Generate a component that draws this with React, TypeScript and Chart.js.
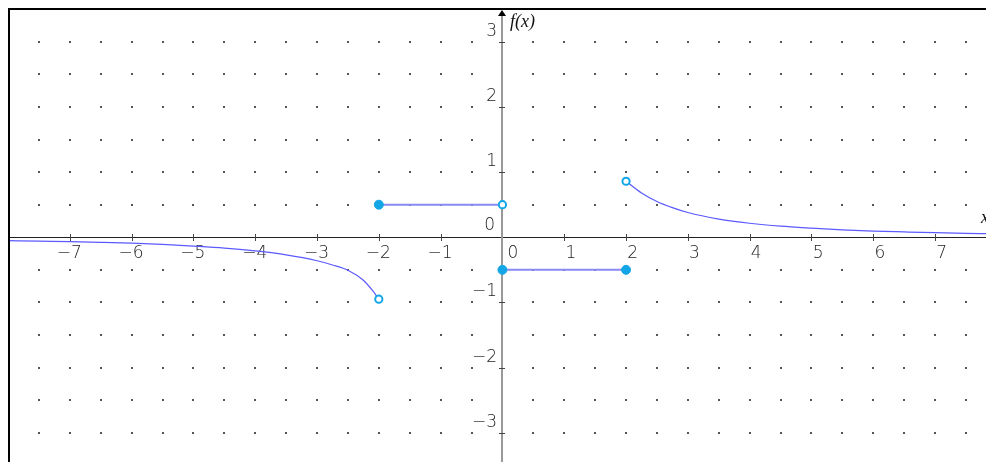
import React, { useEffect, useRef } from "react";
import { Chart, registerables } from "chart.js";

Chart.register(...registerables);

// ---- data ----
const leftCurveX = [-8, -7.5, -7, -6.5, -6, -5.5, -5, -4.5, -4, -3.5, -3, -2.75, -2.5, -2.25, -2.1, -2];
const leftCurveY = [-0.052, -0.06, -0.067, -0.077, -0.09, -0.11, -0.135, -0.165, -0.21, -0.27, -0.36, -0.425, -0.505, -0.66, -0.82, -0.95];

const rightCurveX = [2, 2.25, 2.5, 2.75, 3, 3.5, 4, 4.5, 5, 5.5, 6, 6.5, 7, 7.5, 7.85];
const rightCurveY = [0.86, 0.68, 0.55, 0.455, 0.38, 0.28, 0.215, 0.17, 0.14, 0.115, 0.095, 0.082, 0.07, 0.061, 0.056];

const upperSegX = [-2, 0];
const upperSegY = [0.5, 0.5];
const lowerSegX = [0, 2];
const lowerSegY = [-0.5, -0.5];

const closedPtsX = [-2, 0, 2];
const closedPtsY = [0.5, -0.5, -0.5];
const openPtsX = [0, 2, -2];
const openPtsY = [0.5, 0.86, -0.95];

const xTickValues = [-7, -6, -5, -4, -3, -2, -1, 0, 1, 2, 3, 4, 5, 6, 7];
const xTickLabels = ["\u22127", "\u22126", "\u22125", "\u22124", "\u22123", "\u22122", "\u22121", "0", "1", "2", "3", "4", "5", "6", "7"];
const yTickValues = [-3, -2, -1, 0, 1, 2, 3];
const yTickLabels = ["\u22123", "\u22122", "\u22121", "0", "1", "2", "3"];

const dotXValues = [-7.5, -7, -6.5, -6, -5.5, -5, -4.5, -4, -3.5, -3, -2.5, -2, -1.5, -1, -0.5, 0.5, 1, 1.5, 2, 2.5, 3, 3.5, 4, 4.5, 5, 5.5, 6, 6.5, 7, 7.5];
const dotYValues = [-3, -2.5, -2, -1.5, -1, -0.5, 0.5, 1, 1.5, 2, 2.5, 3];

const toPts = (xs: number[], ys: number[]) => xs.map((v, i) => ({ x: v, y: ys[i] }));

const LABEL_FONT = '200 17px "DejaVu Sans"';
const NAME_FONT = 'italic 18px "Liberation Serif", "Times New Roman", serif';

const mathAxes = {
  id: "mathAxes",
  beforeDatasetsDraw(chart: any) {
    const { ctx, scales } = chart;
    const xs = scales.x;
    const ys = scales.y;
    const W = chart.width;
    const H = chart.height;
    const x0 = Math.round(xs.getPixelForValue(0));
    const y0 = Math.round(ys.getPixelForValue(0));
    ctx.save();

    // dot grid
    ctx.fillStyle = "#555";
    for (const gx of dotXValues) {
      for (const gy of dotYValues) {
        const px = Math.round(xs.getPixelForValue(gx));
        const py = Math.round(ys.getPixelForValue(gy));
        ctx.fillRect(px - 1, py - 1, 2, 2);
      }
    }

    // x axis
    ctx.strokeStyle = "#222";
    ctx.lineWidth = 1;
    ctx.beginPath();
    ctx.moveTo(0, y0 + 0.5);
    ctx.lineTo(W, y0 + 0.5);
    ctx.stroke();

    // x ticks
    ctx.strokeStyle = "#444";
    for (const v of xTickValues) {
      if (v === 0) continue;
      const px = Math.round(xs.getPixelForValue(v)) + 0.5;
      ctx.beginPath();
      ctx.moveTo(px, y0 - 3);
      ctx.lineTo(px, y0 + 4);
      ctx.stroke();
    }

    // y axis
    ctx.strokeStyle = "#999";
    ctx.lineWidth = 2;
    ctx.beginPath();
    ctx.moveTo(x0, 6);
    ctx.lineTo(x0, H);
    ctx.stroke();

    // arrow
    ctx.fillStyle = "#000";
    ctx.beginPath();
    ctx.moveTo(x0, 2);
    ctx.lineTo(x0 - 4, 8);
    ctx.lineTo(x0 + 4, 8);
    ctx.closePath();
    ctx.fill();

    // y ticks
    ctx.strokeStyle = "#444";
    ctx.lineWidth = 1;
    for (const v of yTickValues) {
      if (v === 0) continue;
      const py = Math.round(ys.getPixelForValue(v)) + 0.5;
      ctx.beginPath();
      ctx.moveTo(x0 - 3, py);
      ctx.lineTo(x0 + 3, py);
      ctx.stroke();
    }

    // tick labels
    ctx.font = LABEL_FONT;
    ctx.fillStyle = "#222";
    ctx.textBaseline = "alphabetic";
    xTickValues.forEach((v, i) => {
      const px = xs.getPixelForValue(v);
      if (v === 0) {
        ctx.textAlign = "left";
        ctx.fillText(xTickLabels[i], px + 5, y0 + 21);
      } else {
        ctx.textAlign = "right";
        ctx.fillText(xTickLabels[i], px + 12, y0 + 21);
      }
    });
    yTickValues.forEach((v, i) => {
      const py = ys.getPixelForValue(v);
      ctx.textAlign = "right";
      if (v === 0) {
        ctx.fillText(yTickLabels[i], x0 - 7, py - 7);
      } else {
        ctx.fillText(yTickLabels[i], x0 - 5, py - 6);
      }
    });

    // axis names
    ctx.fillStyle = "#111";
    ctx.font = NAME_FONT;
    ctx.textAlign = "left";
    ctx.fillText("f(x)", x0 + 8, 19);
    ctx.fillText("x", W - 5, y0 - 14);

    ctx.restore();
  },
  afterDraw(chart: any) {
    const { ctx } = chart;
    ctx.save();
    ctx.fillStyle = "#000";
    ctx.fillRect(0, 0, chart.width, 2);
    ctx.fillRect(0, 0, 2, chart.height);
    ctx.restore();
  },
};

export default function App() {
  const ref = useRef<HTMLCanvasElement | null>(null);

  useEffect(() => {
    if (!ref.current) return;
    const markerColor = "#12a6e6";
    const chart = new Chart(ref.current, {
      type: "scatter",
      data: {
        datasets: [
          {
            data: toPts(closedPtsX, closedPtsY),
            pointRadius: 4.5,
            pointBackgroundColor: markerColor,
            pointBorderColor: markerColor,
            pointBorderWidth: 1,
            showLine: false,
          },
          {
            data: toPts(openPtsX, openPtsY),
            pointRadius: 3.6,
            pointBackgroundColor: "#ffffff",
            pointBorderColor: markerColor,
            pointBorderWidth: 2,
            showLine: false,
          },
          {
            data: toPts(upperSegX, upperSegY),
            showLine: true,
            borderColor: "#8a8af5",
            borderWidth: 2,
            pointRadius: 0,
          },
          {
            data: toPts(lowerSegX, lowerSegY),
            showLine: true,
            borderColor: "#8a8af5",
            borderWidth: 2,
            pointRadius: 0,
          },
          {
            data: toPts(leftCurveX, leftCurveY),
            showLine: true,
            borderColor: "#5a5aff",
            borderWidth: 1.2,
            pointRadius: 0,
            cubicInterpolationMode: "monotone",
          },
          {
            data: toPts(rightCurveX, rightCurveY),
            showLine: true,
            borderColor: "#5a5aff",
            borderWidth: 1.2,
            pointRadius: 0,
            cubicInterpolationMode: "monotone",
          },
        ] as any,
      },
      options: {
        animation: false,
        responsive: false,
        events: [],
        layout: { padding: 0, autoPadding: false },
        plugins: { legend: { display: false }, tooltip: { enabled: false } },
        scales: {
          x: { type: "linear", min: -8.0, max: 7.824, display: false },
          y: { type: "linear", min: -3.45, max: 3.52, display: false },
        },
      },
      plugins: [mathAxes],
    });
    return () => chart.destroy();
  }, []);

  return (
    <div style={{ position: "fixed", left: 8, top: 8, width: 978, height: 454, overflow: "hidden", background: "#fff" }}>
      <canvas ref={ref} width={978} height={454} style={{ display: "block" }} />
    </div>
  );
}
